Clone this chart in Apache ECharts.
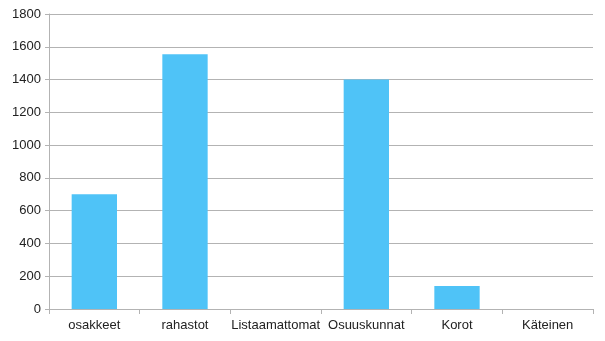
<!DOCTYPE html>
<html><head><meta charset="utf-8">
<script src="https://cdn.jsdelivr.net/npm/echarts@6/dist/echarts.min.js"></script>
<style>html,body{margin:0;padding:0;background:#fff}#c{width:605px;height:341px}</style>
</head><body><div id="c"></div>
<script>
const categories = ['osakkeet','rahastot','Listaamattomat','Osuuskunnat','Korot','Käteinen'];
const values = [700, 1555, 0, 1400, 140, 0];
const chart = echarts.init(document.getElementById('c'));
chart.setOption({
  animation: false,
  grid: {left: 49, right: 12, top: 14, bottom: 32},
  xAxis: {
    type: 'category', data: categories,
    axisLine: {lineStyle: {color: '#b3b3b3'}},
    axisTick: {show: true, length: 5, lineStyle: {color: '#b3b3b3'}},
    axisLabel: {color: '#222', fontFamily: 'Liberation Sans', fontSize: 13, margin: 10, interval: 0}
  },
  yAxis: {
    type: 'value', min: 0, max: 1800, interval: 200,
    axisLine: {show: true, lineStyle: {color: '#b3b3b3'}},
    axisTick: {show: true, length: 4, lineStyle: {color: '#b3b3b3'}},
    splitLine: {lineStyle: {color: '#b3b3b3'}},
    axisLabel: {color: '#222', fontFamily: 'Liberation Sans', fontSize: 13, margin: 8, formatter: v => String(v)}
  },
  series: [{type: 'bar', data: values, barWidth: '50%', itemStyle: {color: '#4fc3f7'}}]
});
</script></body></html>
